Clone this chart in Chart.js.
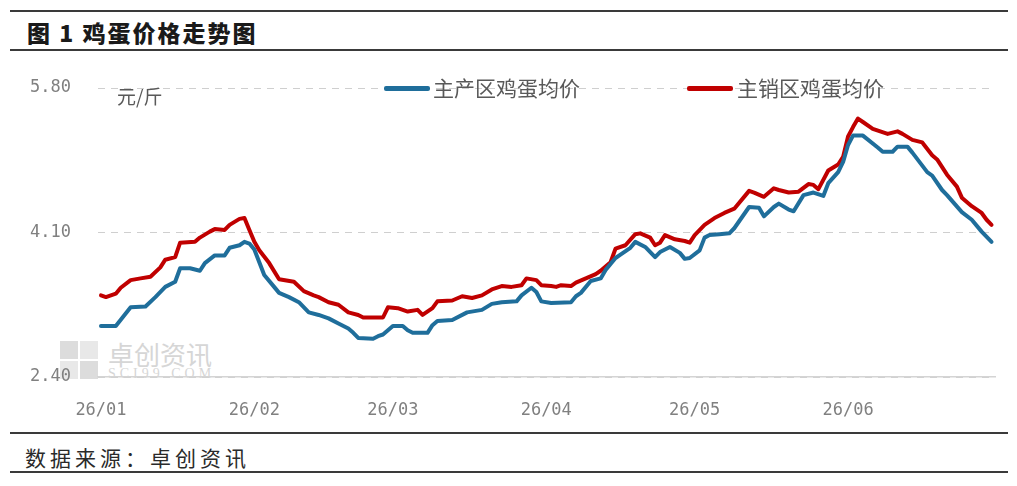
<!DOCTYPE html>
<html><head><meta charset="utf-8">
<script src="https://cdn.jsdelivr.net/npm/chart.js@4.4.1/dist/chart.umd.min.js"></script>
<style>
html,body{margin:0;padding:0;background:#fff;width:1017px;height:486px;overflow:hidden;position:relative;font-family:"Noto Sans CJK SC",sans-serif}
.rule{position:absolute;left:10px;width:998px;height:2px;background:#3a3a3a}
.abs{position:absolute;white-space:nowrap;line-height:1}
#title{left:27px;top:21px;font-size:23px;font-weight:900;color:#1a1a1a;letter-spacing:2px}
#source{left:25px;top:447px;font-size:21px;color:#2a2a2a;letter-spacing:4px}
#unit{left:117px;top:86px;font-size:19px;color:#595959}
.legline{position:absolute;height:5px;width:46px;border-radius:2px}
.legtxt{font-size:21px;color:#595959}
.sq{position:absolute;background:#dcdcdc}
#wmtxt{left:108px;top:341px;font-size:26px;color:#d6d6d6}
#wmurl{left:108px;top:367px;font-size:14px;color:#d6d6d6;font-family:"Liberation Serif",serif;letter-spacing:4px}
canvas{position:absolute;left:0;top:0;z-index:1}
</style></head><body>
<div class="rule" style="top:10px"></div>
<div class="abs" id="title">图 1 鸡蛋价格走势图</div>
<div class="rule" style="top:49px"></div>

<div class="sq" style="left:60px;top:341px;width:18px;height:18px"></div>
<div class="sq" style="left:80px;top:341px;width:18px;height:18px;background:#e8e8e8"></div>
<div class="sq" style="left:60px;top:361px;width:18px;height:18px;background:#e8e8e8"></div>
<div class="sq" style="left:80px;top:361px;width:18px;height:18px"></div>
<div class="abs" id="wmtxt">卓创资讯</div>
<div class="abs" id="wmurl">SCI99.COM</div>

<canvas id="c" width="1017" height="486"></canvas>

<div class="abs" id="unit" style="z-index:2">元/斤</div>
<div class="legline" style="left:384px;top:86px;background:#1F6E9B;z-index:2"></div>
<div class="abs legtxt" style="left:433px;top:77px;z-index:2">主产区鸡蛋均价</div>
<div class="legline" style="left:687px;top:86px;background:#C00000;z-index:2"></div>
<div class="abs legtxt" style="left:737px;top:77px;z-index:2">主销区鸡蛋均价</div>

<div class="rule" style="top:432px"></div>
<div class="abs" id="source">数据来源：卓创资讯</div>
<div class="rule" style="top:471px"></div>

<script>
// day index from 2026-01-01
const xTickDays = [0, 31, 59, 90, 120, 151];
const xTickLabels = ["26/01", "26/02", "26/03", "26/04", "26/05", "26/06"];
const yTicks = [2.40, 4.10, 5.80];

const prodName = "主产区鸡蛋均价";
const prodDays = [0,3,6,9,11,13,15,16,18,20,21,23,25,26,28,29,30,31,32,33,35,36,38,40,42,44,46,48,50,51,52,55,56,57,59,61,62,63,66,67,68,71,74,77,79,81,84,85,87,88,89,91,95,96,97,99,101,102,104,105,107,108,110,112,113,115,117,118,119,121,122,123,125,127,128,131,133,134,136,137,139,140,142,144,146,147,149,150,151,152,154,157,158,160,161,163,164,167,168,170,171,174,176,178,180];
const prodVals = [3.00,3.00,3.22,3.23,3.34,3.46,3.52,3.68,3.68,3.65,3.74,3.83,3.83,3.92,3.95,3.99,3.97,3.90,3.75,3.60,3.46,3.39,3.34,3.28,3.16,3.13,3.09,3.03,2.97,2.92,2.86,2.85,2.88,2.90,3.00,3.00,2.95,2.92,2.92,3.01,3.06,3.07,3.16,3.19,3.26,3.28,3.29,3.36,3.45,3.40,3.29,3.27,3.28,3.35,3.39,3.53,3.56,3.66,3.80,3.84,3.92,3.99,3.93,3.81,3.87,3.93,3.86,3.79,3.80,3.89,4.04,4.07,4.08,4.09,4.15,4.40,4.39,4.29,4.40,4.44,4.37,4.35,4.54,4.57,4.53,4.68,4.81,4.93,5.13,5.24,5.24,5.10,5.05,5.05,5.11,5.11,5.04,4.81,4.77,4.60,4.54,4.34,4.25,4.11,3.99];

const salesName = "主销区鸡蛋均价";
const salesDays = [0,1,3,4,6,8,10,12,13,15,16,19,20,22,23,25,26,28,29,30,31,32,34,36,39,41,43,44,46,48,50,52,53,57,58,60,62,64,65,67,68,71,73,75,77,79,81,83,85,86,88,89,91,92,93,95,96,98,100,101,103,104,106,108,109,111,112,113,114,116,118,119,120,122,124,126,128,131,132,134,136,137,139,141,143,144,145,147,149,150,151,152,153,154,156,159,161,162,164,166,168,169,171,173,174,176,178,179,180];
const salesVals = [3.36,3.34,3.38,3.45,3.54,3.56,3.58,3.69,3.78,3.81,3.98,3.99,4.04,4.11,4.14,4.13,4.19,4.26,4.27,4.13,3.99,3.89,3.74,3.55,3.52,3.41,3.36,3.34,3.28,3.25,3.16,3.13,3.10,3.10,3.22,3.21,3.17,3.19,3.13,3.21,3.29,3.30,3.35,3.33,3.36,3.43,3.47,3.46,3.48,3.56,3.54,3.48,3.47,3.46,3.48,3.47,3.51,3.56,3.61,3.65,3.75,3.91,3.95,4.08,4.09,4.04,3.95,3.98,4.07,4.02,4.00,3.98,4.07,4.19,4.27,4.33,4.38,4.59,4.57,4.52,4.62,4.60,4.57,4.58,4.67,4.66,4.61,4.83,4.90,4.99,5.23,5.34,5.44,5.40,5.32,5.26,5.29,5.26,5.19,5.16,5.01,4.96,4.78,4.64,4.51,4.41,4.33,4.25,4.19];

const toPts = (xs, ys) => xs.map((d, i) => ({x: d, y: ys[i]}));

new Chart(document.getElementById('c'), {
  type: 'line',
  data: {
    datasets: [
      {label: prodName, data: toPts(prodDays, prodVals), borderColor: '#1F6E9B', borderWidth: 4,
       pointRadius: 0, tension: 0, borderJoinStyle: 'round', borderCapStyle: 'round'},
      {label: salesName, data: toPts(salesDays, salesVals), borderColor: '#C00000', borderWidth: 4,
       pointRadius: 0, tension: 0, borderJoinStyle: 'round', borderCapStyle: 'round'}
    ]
  },
  options: {
    responsive: false, animation: false, devicePixelRatio: 1,
    layout: {padding: {left: 10, right: 22, top: 88, bottom: 69}},
    plugins: {legend: {display: false}, tooltip: {enabled: false}},
    scales: {
      x: {
        type: 'linear', min: -0.6, max: 180.7,
        afterBuildTicks: s => { s.ticks = xTickDays.map(v => ({value: v})); },
        afterFit: s => { s.height = 40; },
        ticks: {
          autoSkip: false, maxRotation: 0, padding: 15, color: '#808080',
          font: {family: 'DejaVu Sans Mono', size: 17},
          callback: v => xTickLabels[xTickDays.indexOf(v)]
        },
        grid: {display: false},
        border: {display: true, color: '#d4d4d4', width: 1.5}
      },
      y: {
        min: 2.4, max: 5.8,
        afterBuildTicks: s => { s.ticks = yTicks.map(v => ({value: v})); },
        afterFit: s => { s.width = 88; },
        ticks: {
          padding: 27, color: '#808080',
          font: {family: 'DejaVu Sans Mono', size: 17},
          callback: v => Number(v).toFixed(2)
        },
        grid: {color: '#cfcfcf', lineWidth: 1, drawTicks: false},
        border: {display: false, dash: [7, 6]}
      }
    }
  }
});
</script>
</body></html>
